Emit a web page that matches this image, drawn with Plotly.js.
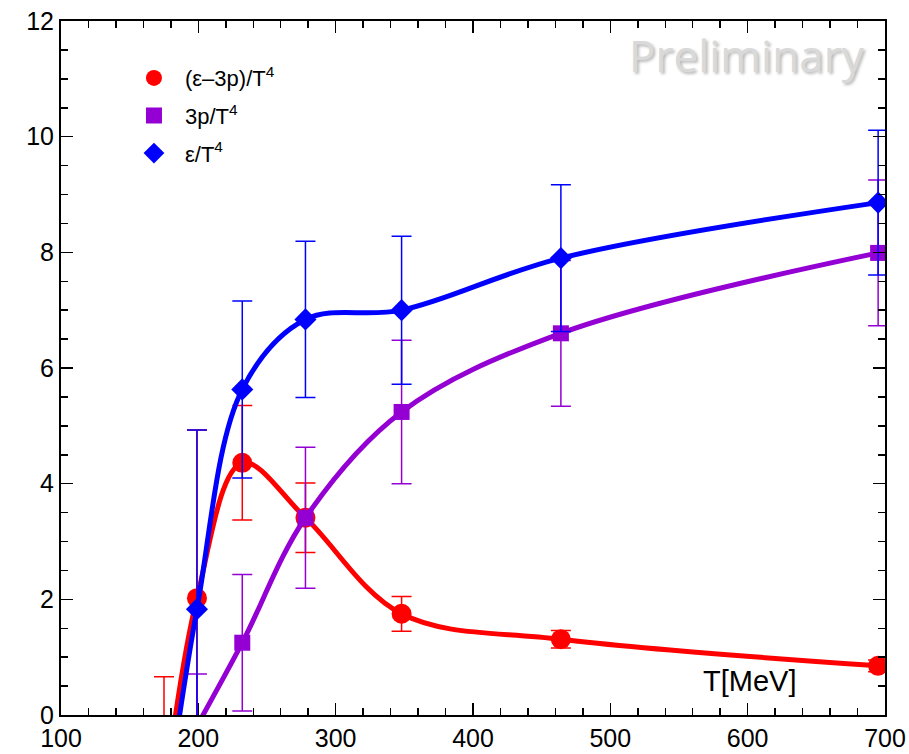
<!DOCTYPE html>
<html>
<head>
<meta charset="utf-8">
<script src="https://cdn.plot.ly/plotly-3.0.1.min.js"></script>
<style>
html,body{margin:0;padding:0;background:#fff;}
#chart{width:909px;height:754px;}
</style>
</head>
<body>
<div id="chart"></div>
<script>
// Temperatures [MeV]
var temperature = [175, 199, 232, 278, 348, 464, 695];
// (ε-3p)/T^4
var interaction = [-1.44, 2.02, 4.36, 3.41, 1.75, 1.31, 0.85];
var interactionErr = [2.1, 2.91, 0.99, 0.6, 0.3, 0.15, 0.1];
// 3p/T^4
var pressure3 = [null, -0.19, 1.25, 3.41, 5.24, 6.60, 7.99];
var pressure3Err = [null, 0.9, 1.18, 1.22, 1.24, 1.26, 1.26];
// ε/T^4
var energy = [-1.83, 1.83, 5.63, 6.84, 7.00, 7.90, 8.86];
var energyErr = [null, 3.1, 1.53, 1.35, 1.28, 1.27, 1.25];

var names = ['(\u03b5\u20133p)/T<sup>4</sup>', '3p/T<sup>4</sup>', '\u03b5/T<sup>4</sup>'];
var xTicks = [100, 200, 300, 400, 500, 600, 700];
var yTicks = [0, 2, 4, 6, 8, 10, 12];

var RED = '#ff0000', PURPLE = '#9400d3', BLUE = '#0000ff';

function lineTrace(y, color) {
  return {x: temperature, y: y, mode: 'lines', showlegend: false, hoverinfo: 'skip',
    line: {color: color, width: 5, shape: 'spline', smoothing: 1}};
}
function markerTrace(y, err, color, symbol, size, name, group) {
  return {x: temperature, y: y, mode: 'markers', name: name, legendgroup: group,
    marker: {color: color, symbol: symbol, size: size},
    error_y: {type: 'data', array: err, visible: true, color: color, thickness: 1.5, width: 10}};
}

var data = [
  lineTrace(interaction, RED),
  markerTrace(interaction, interactionErr, RED, 'circle', 20, names[0], 'g1'),
  lineTrace(pressure3, PURPLE),
  markerTrace(pressure3, pressure3Err, PURPLE, 'square', 16, names[1], 'g2'),
  lineTrace(energy, BLUE),
  markerTrace(energy, energyErr, BLUE, 'diamond', 17, names[2], 'g3')
];

var axisCommon = {
  showline: true, linecolor: '#000', linewidth: 2, mirror: 'allticks',
  ticks: 'inside', ticklen: 12, tickwidth: 1.5, tickcolor: '#000',
  showgrid: false, zeroline: false,
  tickfont: {family: 'Liberation Sans, Arial, sans-serif', size: 25, color: '#000'}
};

var layout = {
  width: 909, height: 754,
  margin: {l: 61, r: 24, t: 21, b: 39},
  paper_bgcolor: '#fff', plot_bgcolor: '#fff',
  font: {family: 'Liberation Sans, Arial, sans-serif', color: '#000'},
  xaxis: Object.assign({}, axisCommon, {
    range: [100, 700], tickvals: xTicks, ticktext: xTicks.map(String),
    minor: {dtick: 20, tick0: 100, ticks: 'inside', ticklen: 7, tickwidth: 1.5, tickcolor: '#000', showgrid: false}
  }),
  yaxis: Object.assign({}, axisCommon, {
    range: [0, 12], tickvals: yTicks, ticktext: yTicks.map(String),
    minor: {dtick: 0.5, tick0: 0, ticks: 'inside', ticklen: 7, tickwidth: 1.5, tickcolor: '#000', showgrid: false}
  }),
  legend: {x: 0.0752, y: 0.948, xanchor: 'left', yanchor: 'top', bgcolor: 'rgba(0,0,0,0)',
    itemwidth: 52, tracegroupgap: 6, font: {size: 22, color: '#000'}},
  showlegend: true,
  annotations: [
    {text: 'Preliminary', xref: 'paper', yref: 'paper', x: 0.833, y: 0.951,
     xanchor: 'center', yanchor: 'middle', showarrow: false,
     font: {family: 'Open Sans, sans-serif', size: 44, color: '#d9d9d9', shadow: '2px 2px 3px #b8b8b8'}},
    {text: 'T[MeV]', xref: 'paper', yref: 'paper', x: 0.836, y: 0.049,
     xanchor: 'center', yanchor: 'middle', showarrow: false,
     font: {size: 29, color: '#000'}}
  ]
};

Plotly.newPlot('chart', data, layout, {displayModeBar: false, staticPlot: true});
</script>
</body>
</html>
